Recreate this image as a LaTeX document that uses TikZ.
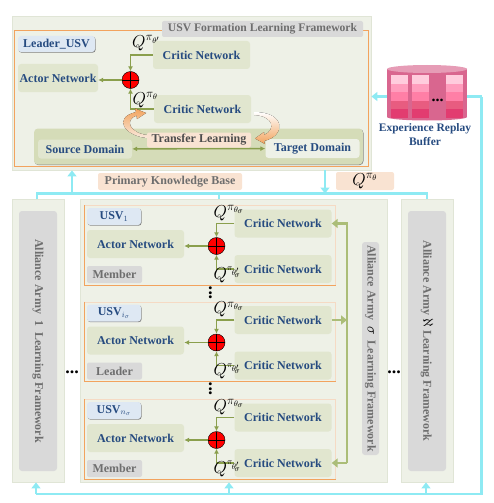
\documentclass[tikz,border=0pt]{standalone}
\usepackage{amsmath,amssymb}
\usepackage{fontspec}
\setmainfont{Liberation Serif}
\usepackage{tikz}
\usetikzlibrary{arrows.meta,positioning,shapes.geometric,calc,shadows}
\definecolor{panelbg}{HTML}{EEF1E7}
\definecolor{panelln}{HTML}{E0E5D6}
\definecolor{netbg}{HTML}{E1E6CF}
\definecolor{domainbg}{HTML}{D5DCB8}
\definecolor{netblue}{HTML}{264B80}
\definecolor{graybg}{HTML}{D9D9D9}
\definecolor{graytx}{HTML}{6E6E6E}
\definecolor{orangeln}{HTML}{F2A35E}
\definecolor{orangelt}{HTML}{F5DAC4}
\definecolor{peachbg}{HTML}{F9E3D2}
\definecolor{tagbg}{HTML}{DEE8F3}
\definecolor{greenln}{HTML}{8A9F4D}
\definecolor{greenbus}{HTML}{ABBD78}
\definecolor{cyanln}{HTML}{8EEAF3}
\definecolor{bufbg}{HTML}{D9668F}
\tikzset{
  usvpanel/.style={draw=panelln, fill=panelbg, minimum width=#1, anchor=north west, inner sep=0pt},
  netbox/.style={fill=netbg, rounded corners=3pt, text=netblue, font=\fontsize{12}{12}\selectfont\bfseries, minimum width=97, minimum height=28, inner sep=0pt},
  domainbox/.style={rounded corners=3pt, text=netblue, font=\fontsize{12}{12}\selectfont\bfseries, minimum width=94, minimum height=19, inner sep=0pt},
  usvtag/.style={fill=tagbg, rounded corners=3pt, general shadow={shadow xshift=.6pt, shadow yshift=-.7pt, fill=gray}, text=netblue, font=\fontsize{12}{12}\selectfont\bfseries, minimum width=54, minimum height=17, inner sep=0pt},
  roletag/.style={fill=graybg, rounded corners=2pt, text=graytx, font=\fontsize{12}{12}\selectfont\bfseries, minimum width=55, minimum height=17, inner sep=0pt},
  armybox/.style={fill=graybg, rounded corners=3pt, minimum width=38, minimum height=260, inner sep=0pt},
  armytext/.style={rotate=-90, text=graytx, font=\fontsize{12}{12}\selectfont\bfseries, inner sep=0pt},
  peachbox/.style={fill=peachbg, rounded corners=2pt, inner sep=0pt},
  qlabel/.style={font=\fontsize{17}{17}\selectfont, inner sep=0pt, anchor=west},
  dotsnode/.style={font=\fontsize{18}{18}\selectfont\bfseries, inner sep=0pt},
  sumnode/.style={circle, draw=black, fill=red, minimum size=17, inner sep=0pt,
    path picture={\draw[black, line width=.7pt] (path picture bounding box.north) -- (path picture bounding box.south) (path picture bounding box.west) -- (path picture bounding box.east);}},
  greenarrow/.style={-{Latex[length=5pt,width=5pt]}, draw=greenln, line width=1.4pt},
  busarrow/.style={-{Triangle[length=6pt,width=9pt]}, draw=greenbus, line width=2.5pt},
  cyanline/.style={draw=cyanln, line width=2.5pt},
  cyanarrow/.style={-{Triangle[length=6pt,width=9pt]}, draw=cyanln, line width=2.5pt}
}
\begin{document}
\begin{tikzpicture}[x=1pt,y=-1pt]
\useasboundingbox (0,0) rectangle (494,503);

% leader framework
\node[usvpanel=359, minimum height=154] (toppanel) at (12,16) {};
\draw[orangeln, line width=.8pt] (14,30) rectangle (368,166);
\node[fill=graybg, rounded corners=2pt, minimum width=201, minimum height=16, inner sep=0pt, text=graytx, font=\fontsize{11.6}{12}\selectfont\bfseries] (toptitle) at (262.5,29) {USV Formation Learning Framework};
\node[usvtag, minimum width=77, minimum height=16] (leadertag) at (56.5,44) {Leader\_USV};
\node[netbox] (topcritica) at (201.5,55) {Critic Network};
\node[netbox] (topcriticb) at (202.5,109) {Critic Network};
\node[netbox, minimum width=80] (topactor) at (58,78) {Actor Network};
\node[sumnode] (topsum) at (130.5,80) {};
\draw[greenarrow] (topcritica.west) -| (topsum.north);
\draw[greenarrow] (topcriticb.west) -| (topsum.south);
\draw[greenarrow] (topsum.west) -- (topactor.east |- topsum.west);
\node[qlabel] (topqa) at (132,43) {$Q^{\pi_{\theta'}}$};
\node[qlabel] (topqb) at (132.5,100) {$Q^{\pi_{\theta}}$};

\node[fill=domainbg, rounded corners=4pt, general shadow={shadow xshift=.5pt, shadow yshift=-.6pt, fill=gray}, minimum width=329, minimum height=36, inner sep=0pt] (domainbase) at (198.5,146.5) {};
\node[domainbox, fill=netbg] (source) at (85,149) {Source Domain};
\node[domainbox, fill=panelbg] (target) at (312.5,148.5) {Target Domain};
\draw[{Latex[length=5pt,width=5pt]}-{Latex[length=5pt,width=5pt]}, draw=greenln, line width=1.4pt] (source) -- (target);
% transfer arcs
\fill[top color=orangeln, bottom color=orangelt!60] (147,138) .. controls (125,136) and (112,118) .. (136,112) -- (135,108.5) -- (146,113) -- (137,119) -- (136.5,115.5) .. controls (124,120) and (130,133) .. (147,135) -- cycle;
\fill[top color=white, bottom color=orangeln] (254,112) .. controls (286,112) and (286,136) .. (264,141) -- (265,144) -- (255,138.5) -- (264,132) -- (264,135) .. controls (276,130) and (274,116) .. (254,115) -- cycle;
\node[peachbox, minimum width=104, minimum height=15, font=\fontsize{12}{12}\selectfont\bfseries, text=black!70] (transfer) at (199,140) {Transfer Learning};

% knowledge labels
\node[peachbox, minimum width=144, minimum height=17, text=graytx, font=\fontsize{12}{12}\selectfont\bfseries] (primary) at (170,181.5) {Primary Knowledge Base};
\node[peachbox, minimum width=58, minimum height=18, font=\fontsize{17}{17}\selectfont] (qbase) at (365,181) {$Q^{\pi_{\theta}}$};

% army frameworks
\node[usvpanel=52, minimum height=283] (leftpanel) at (12,199) {};
\node[usvpanel=307, minimum height=283] (midpanel) at (80,199) {};
\node[usvpanel=52, minimum height=283] (rightpanel) at (401,199) {};
\node[armybox] (leftarmy) at (38,341) {};
\node[armybox] (rightarmy) at (427,341) {};
\node[armybox, minimum width=17, minimum height=213] (midarmy) at (370.5,348.5) {};
\node[armytext] (leftlabel) at (38,341) {Alliance Army\ \ 1\ \ Learning Framework};
\node[armytext] (midlabel) at (370.5,348.5) {Alliance Army\ \ \textcolor{black}{\fontsize{15}{15}\selectfont$\sigma$}\ \ Learning Framework};
\node[armytext] (rightlabel) at (427,341) {Alliance Army\ \textcolor{black}{\fontsize{15}{15}\selectfont$\aleph$}\ Learning Framework};

% knowledge links
\coordinate (kbwest) at (37,193.5);
\coordinate (kbup) at (72,193.5);
\coordinate (kbmid) at (219,193.5);
\coordinate (kbdown) at (325,193.5);
\coordinate (kbeast) at (427,193.5);
\coordinate (feedeast) at (481.5,494);
\coordinate (feedtop) at (481.5,96.5);
\coordinate (feedwest) at (36,494);
\coordinate (feedmid) at (229,494);
\coordinate (feedright) at (426,494);
\draw[cyanline] (kbwest |- leftpanel.north) -- (kbwest) -- (kbeast) -- (kbeast |- rightpanel.north);
\draw[cyanline] (kbmid) -- (kbmid |- midpanel.north);
\draw[cyanarrow] (kbup) -- (kbup |- toppanel.south);
\draw[cyanarrow] (kbdown |- toppanel.south) -- (kbdown);
\draw[cyanarrow] (feedtop) -- (toppanel.east |- feedtop);
\draw[cyanline] (feedtop) -- (feedeast) -- (feedwest);
\draw[cyanarrow] (feedwest) -- (feedwest |- leftpanel.south);
\draw[cyanarrow] (feedmid) -- (feedmid |- midpanel.south);
\draw[cyanarrow] (feedright) -- (feedright |- rightpanel.south);

% replay buffer
\fill[bufbg] (387,69) rectangle (467,117);
\fill[bufbg] (427,117) ellipse (40 and 3.5);
\fill[bufbg!65!white] (427,69) ellipse (40 and 4);
\foreach \bx in {391,412,446} {
  \foreach \cy/\cc in {75/FFCCDD,83.6/FF9DBD,92.2/FF7FA6,100.8/E85C80,109.4/E23C70} {
    \definecolor{cellc}{HTML}{\cc}
    \fill[cellc] (\bx,\cy) rectangle ++(17,8.6);
  }
}
\node[dotsnode, font=\fontsize{16}{16}\selectfont\bfseries] (bufdots) at (437.5,100) {...};
\node[align=center, text=netblue, font=\fontsize{11.5}{14}\selectfont\bfseries, inner sep=0pt] (buftext) at (425,135) {Experience Replay\\Buffer};

% usv rows
\foreach \rowid/\rowy/\usvname/\rolename in {a/205/USV$_{1}$/Member, b/301.5/USV$_{i_\sigma}$/Leader, c/399/USV$_{n_\sigma}$/Member} {
  \node[draw=orangelt, line width=.8pt, minimum width=251, minimum height=79.5, anchor=north west, inner sep=0pt] (row\rowid) at (84,\rowy) {};
  \draw[orangeln, line width=.8pt] (row\rowid.north west) |- (row\rowid.south east);
  \node[usvtag] (tag\rowid) at (114,\rowy+11.5) {\usvname};
  \node[netbox] (actor\rowid) at (135.5,\rowy+39) {Actor Network};
  \node[roletag] (role\rowid) at (114.5,\rowy+69.5) {\rolename};
  \node[netbox] (critica\rowid) at (283,\rowy+18.5) {Critic Network};
  \node[netbox] (criticb\rowid) at (283,\rowy+64) {Critic Network};
  \node[sumnode] (sum\rowid) at (216.5,\rowy+41) {};
  \draw[greenarrow] (critica\rowid.west) -| (sum\rowid.north);
  \draw[greenarrow] (criticb\rowid.west) -| (sum\rowid.south);
  \draw[greenarrow] (sum\rowid.west) -- (actor\rowid.east |- sum\rowid.west);
  \node[qlabel] (qa\rowid) at (213.5,\rowy+8) {$Q^{\pi_{\theta_\sigma}}$};
  \node[qlabel] (qb\rowid) at (213.5,\rowy+70) {$Q^{\scriptscriptstyle\pi_{\theta'_{\!\sigma}}}$};
}
\node[dotsnode, rotate=90] (rowdotsa) at (210.5,293) {...};
\node[dotsnode, rotate=90] (rowdotsb) at (210.5,389) {...};
\node[dotsnode] (armydotsa) at (72,372) {...};
\node[dotsnode] (armydotsb) at (394,372) {...};

% green bus
\coordinate (busx) at (347,0);
\draw[busarrow] (busx |- criticbc.east) -- (busx |- criticaa.east) -- (criticaa.east);
\draw[busarrow] (busx |- criticbc.east) -- (criticbc.east);
\draw[busarrow] (criticab.east) -- (busx |- criticab.east);
\end{tikzpicture}
\end{document}
